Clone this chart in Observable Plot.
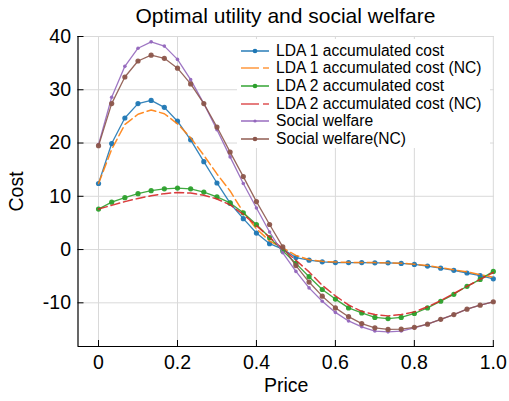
<!DOCTYPE html>
<html>
<head>
<meta charset="utf-8">
<script src="https://cdn.jsdelivr.net/npm/d3@7"></script>
<script src="https://cdn.jsdelivr.net/npm/@observablehq/plot@0.6"></script>
<style>
  html, body { margin: 0; padding: 0; background: #fff; }
  #wrap { position: relative; width: 509px; height: 401px; font-family: "Liberation Sans", Arial, sans-serif; }
  #title { position: absolute; left: 0; top: 4px; width: 571px; text-align: center; font-size: 21px; color: #000; line-height: 24px; }
  #legend { position: absolute; left: 237px; top: 39px; width: 253px; height: 109px; background: #fff; }
  .row { position: absolute; left: 0; height: 18px; display: flex; align-items: center; font-size: 15.6px; color: #000; white-space: nowrap; }
  .row svg { margin-left: 4px; margin-right: 7px; }
</style>
</head>
<body>
<div id="wrap">
  <div id="chart"></div>
  <div id="title">Optimal utility and social welfare</div>
  <div id="legend"></div>
</div>
<script>
const price = [0, 0.0333, 0.0667, 0.1, 0.1333, 0.1667, 0.2, 0.2333, 0.2667, 0.3, 0.3333,
  0.3667, 0.4, 0.4333, 0.4667, 0.5, 0.5333, 0.5667, 0.6, 0.6333, 0.6667,
  0.7, 0.7333, 0.7667, 0.8, 0.8333, 0.8667, 0.9, 0.9333, 0.9667, 1.0];

const lda1 = [12.4, 19.9, 24.7, 27.4, 28.0, 26.7, 24.1, 20.6, 16.5, 12.5, 8.7,
  5.8, 3.1, 1.1, 0.1, -1.5, -2.0, -2.3, -2.45, -2.45, -2.45,
  -2.5, -2.5, -2.6, -2.8, -3.1, -3.5, -3.9, -4.4, -4.9, -5.5];
const lda1NC = [12.4, 18.8, 23.5, 25.4, 26.2, 25.5, 23.6, 21.0, 17.7, 14.2, 11.0,
  7.0, 3.9, 1.6, 0.3, -1.1, -1.9, -2.2, -2.35, -2.4, -2.45,
  -2.45, -2.5, -2.55, -2.75, -3.0, -3.4, -3.8, -4.2, -4.7, -5.2];
const lda2 = [7.6, 8.9, 9.75, 10.5, 11.05, 11.4, 11.55, 11.4, 10.8, 9.9, 8.75,
  6.9, 4.7, 2.25, -0.25, -2.6, -5.1, -7.5, -9.3, -10.95, -11.9,
  -12.75, -12.95, -12.75, -12.0, -10.95, -9.7, -8.4, -6.9, -5.6, -4.1];
const lda2NC = [7.6, 8.3, 9.0, 9.6, 10.1, 10.5, 10.7, 10.6, 10.2, 9.5, 8.4,
  6.6, 4.5, 2.3, 0.1, -2.0, -4.2, -6.7, -8.7, -10.4, -11.6,
  -12.2, -12.45, -12.2, -11.7, -10.75, -9.6, -8.25, -6.9, -5.6, -4.3];
const social = [19.7, 28.6, 34.4, 37.8, 39.0, 38.2, 35.7, 31.9, 27.4, 22.5, 17.4,
  12.4, 7.8, 3.3, -0.6, -4.1, -7.2, -9.7, -11.8, -13.4, -14.5,
  -15.3, -15.45, -15.3, -14.7, -14.0, -13.1, -12.2, -11.2, -10.45, -9.8];
const socialNC = [19.5, 27.4, 32.4, 35.4, 36.5, 35.9, 34.05, 31.1, 27.4, 23.0, 18.3,
  13.7, 9.0, 4.7, 0.5, -3.0, -6.1, -8.75, -10.95, -12.6, -13.9,
  -14.7, -15.0, -14.95, -14.6, -14.0, -13.1, -12.2, -11.2, -10.45, -9.8];

const seriesNames = ["LDA 1 accumulated cost", "LDA 1 accumulated cost (NC)", "LDA 2 accumulated cost",
  "LDA 2 accumulated cost (NC)", "Social welfare", "Social welfare(NC)"];
const seriesColors = ["#1f77b4", "#ff7f0e", "#2ca02c", "#d62728", "#9467bd", "#8c564b"];
const seriesValues = [lda1, lda1NC, lda2, lda2NC, social, socialNC];
const seriesDashed = [false, true, false, true, false, false];
const seriesMarkerR = [2.6, 0, 2.6, 0, 1.8, 2.6];

const xTicks = [0, 0.2, 0.4, 0.6, 0.8, 1.0];
const yTicks = [-10, 0, 10, 20, 30, 40];
const xDomain = [-0.052, 1.003];
const yDomain = [-18.2, 40];

const series = seriesNames.map((name, i) => ({
  name, color: seriesColors[i], dashed: seriesDashed[i], r: seriesMarkerR[i],
  data: price.map((p, j) => ({price: p, cost: seriesValues[i][j]}))
}));

const marks = [
  Plot.gridX(xTicks, {stroke: "#d9d9d9", strokeOpacity: 1, strokeWidth: 1}),
  Plot.gridY(yTicks, {stroke: "#d9d9d9", strokeOpacity: 1, strokeWidth: 1})
];
for (const s of series) {
  marks.push(Plot.line(s.data, {
    x: "price", y: "cost", stroke: s.color,
    strokeWidth: s.dashed ? 1.5 : 1.3,
    strokeDasharray: s.dashed ? "9,4" : null,
    strokeOpacity: 0.9
  }));
  if (s.r > 0) {
    marks.push(Plot.dot(s.data, {x: "price", y: "cost", r: s.r, fill: s.color, stroke: "none", fillOpacity: 0.95}));
  }
}
marks.push(
  Plot.ruleX([xDomain[0]], {stroke: "#000", strokeWidth: 1.2}),
  Plot.ruleY([yDomain[0]], {stroke: "#000", strokeWidth: 1.2}),
  Plot.axisX(xTicks, {tickSize: 6, dy: -6, tickFormat: () => "", stroke: "#000", label: null}),
  Plot.axisY(yTicks, {tickSize: 6, dx: 6, tickFormat: () => "", stroke: "#000", label: null}),
  Plot.axisX(xTicks, {tickSize: 0, tickPadding: 9, tickFormat: d => d === 0 ? "0" : d.toFixed(1), fontSize: 19.5, fill: "#000",
    label: "Price", labelAnchor: "center", labelArrow: "none", labelOffset: 45}),
  Plot.axisY(yTicks, {tickSize: 0, tickPadding: 7, tickFormat: d => String(d), fontSize: 19.5, fill: "#000",
    label: "Cost", labelAnchor: "center", labelArrow: "none", labelOffset: 69})
);

const chart = Plot.plot({
  width: 509,
  height: 401,
  marginTop: 36,
  marginBottom: 55,
  marginLeft: 77.5,
  marginRight: 15,
  style: {fontFamily: "'Liberation Sans', Arial, sans-serif", fontSize: "19.5px", color: "#000", background: "#fff"},
  x: {domain: xDomain},
  y: {domain: yDomain},
  marks
});
document.getElementById("chart").appendChild(chart);

const legend = document.getElementById("legend");
series.forEach((s, i) => {
  const row = document.createElement("div");
  row.className = "row";
  row.style.top = (11.7 + 17.6 * i - 9) + "px";
  const svg = `<svg width="28" height="10" viewBox="0 0 28 10">
    <line x1="0" y1="5" x2="28" y2="5" stroke="${s.color}" stroke-width="${s.dashed ? 1.5 : 1.8}" stroke-opacity="0.8" ${s.dashed ? 'stroke-dasharray="18,4"' : ''}/>
    ${s.r > 0 ? `<circle cx="14" cy="5" r="${s.r * 0.9}" fill="${s.color}"/>` : ""}
  </svg>`;
  row.innerHTML = svg + `<span>${s.name}</span>`;
  legend.appendChild(row);
});
</script>
</body>
</html>
